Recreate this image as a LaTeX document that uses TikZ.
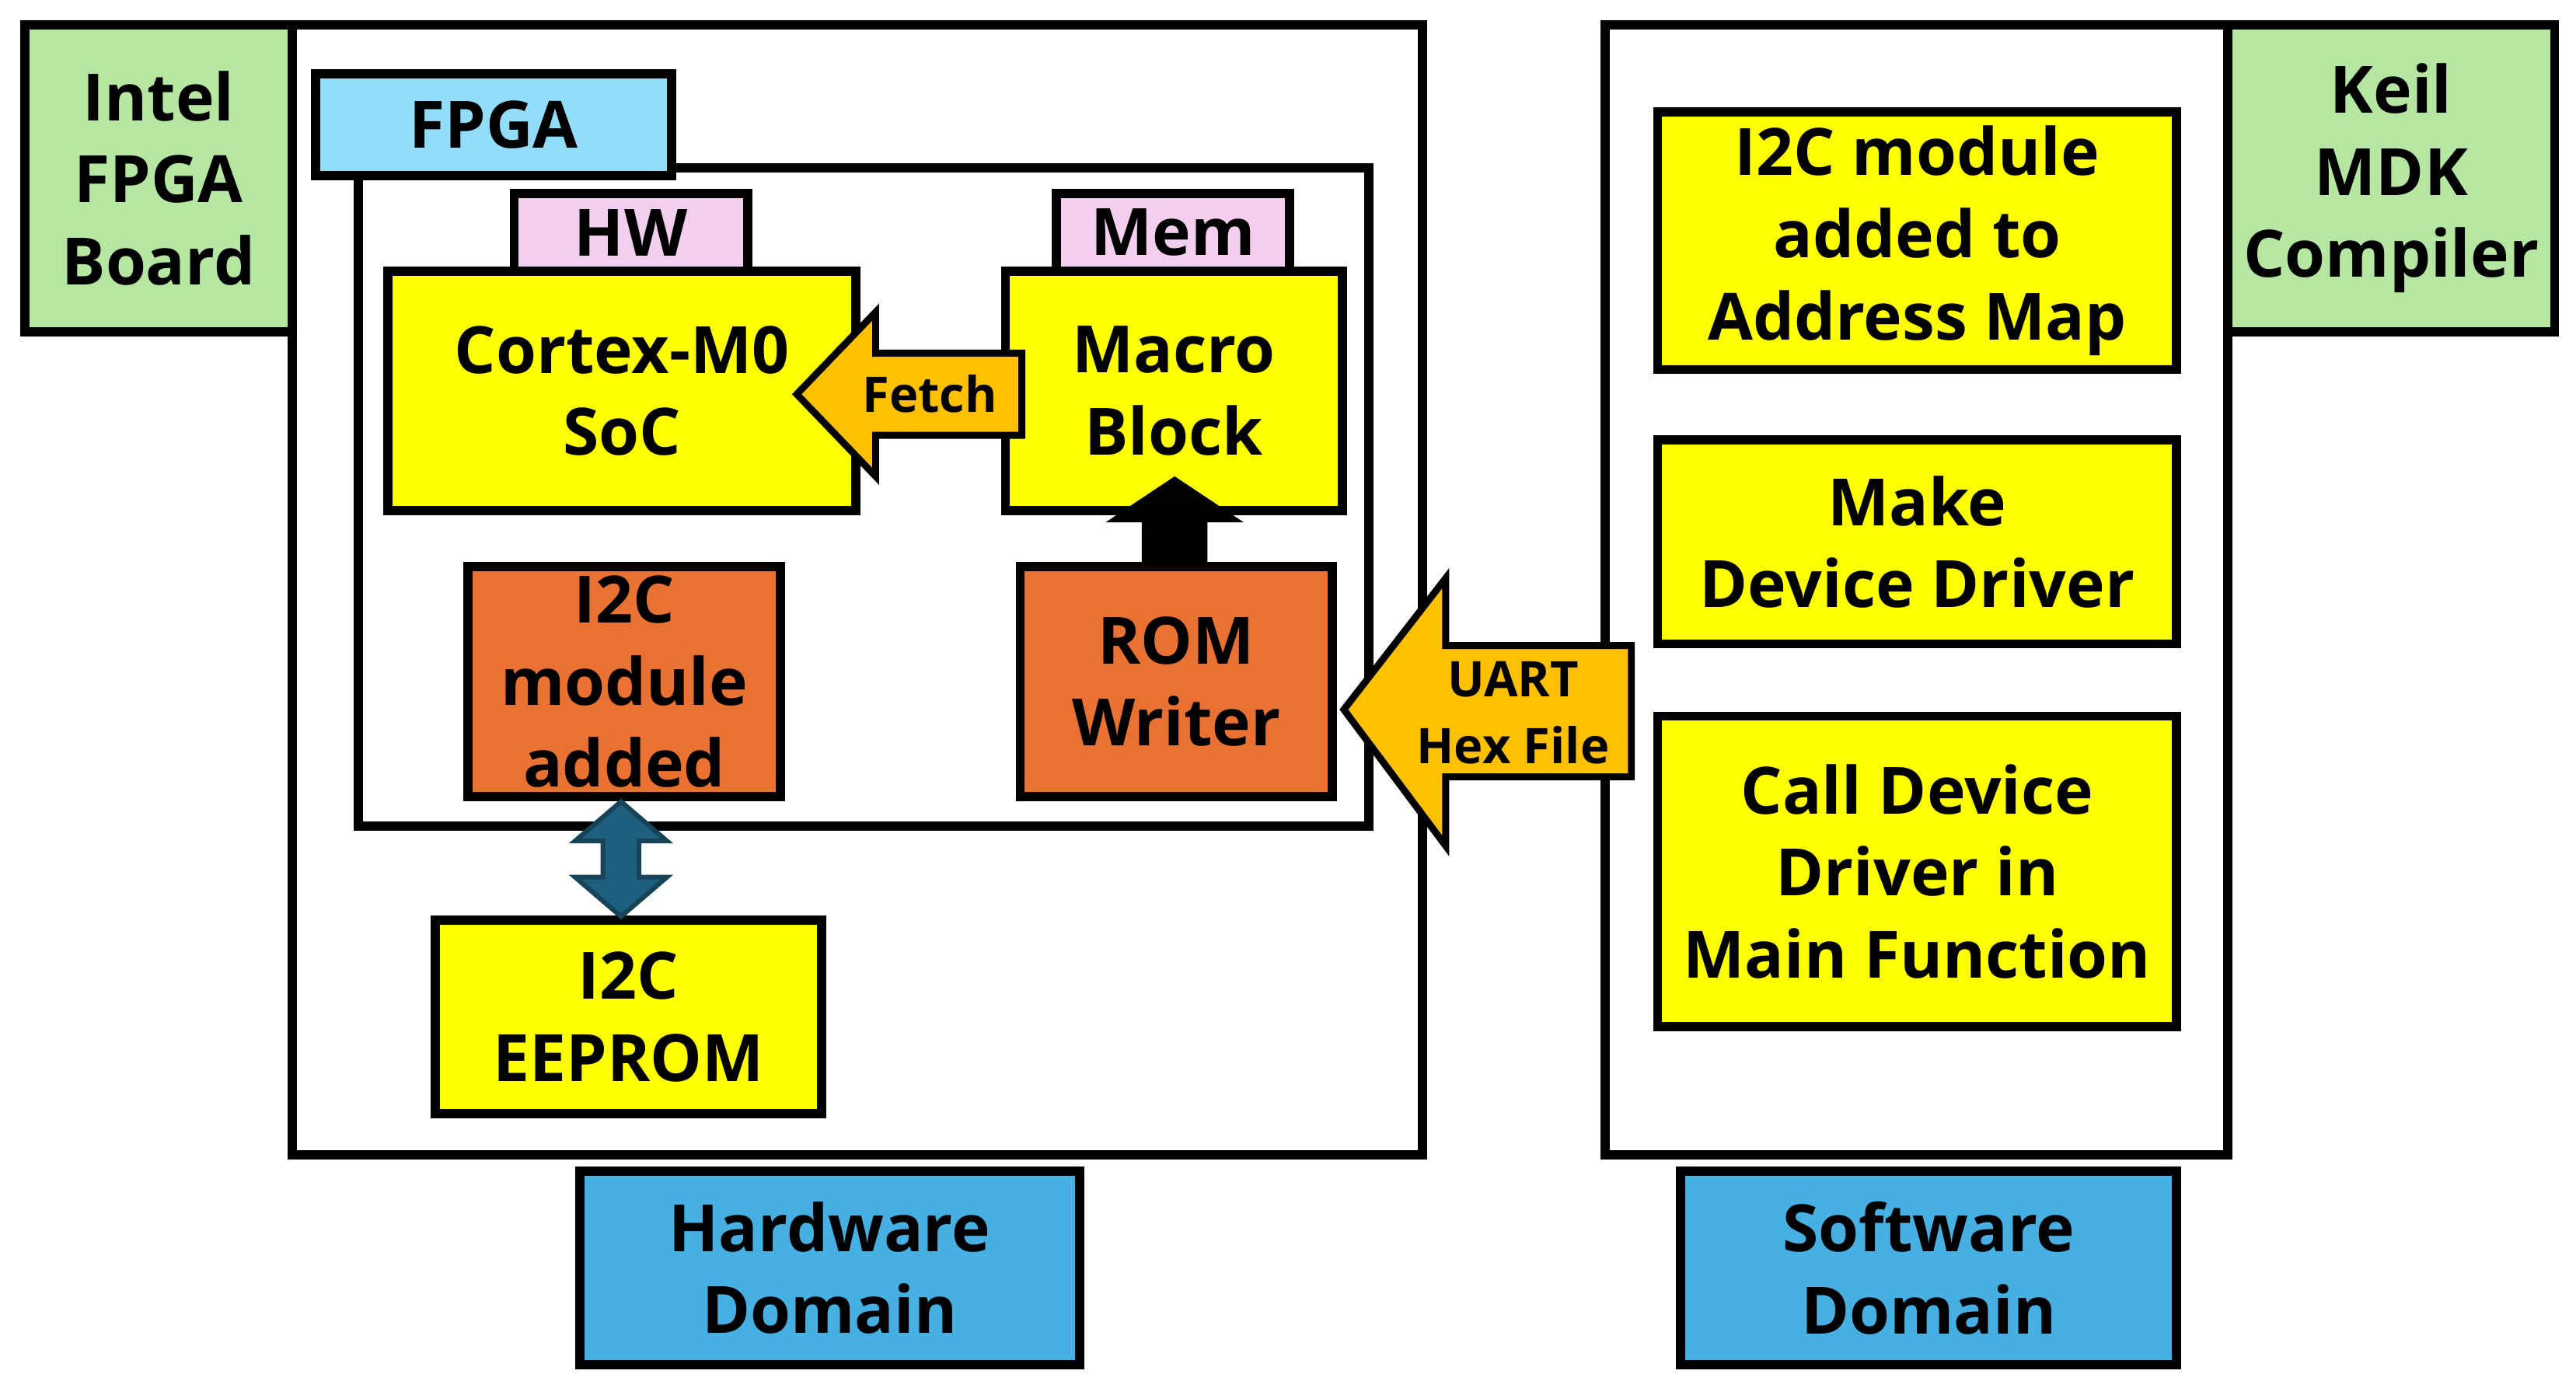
\documentclass[tikz,border=0pt]{standalone}
\usepackage{fontspec}
\setmainfont{Open Sans}
\usetikzlibrary{calc}
\definecolor{boxyellow}{HTML}{FFFF00}
\definecolor{boxorange}{HTML}{E97132}
\definecolor{boxgreen}{HTML}{B5E6A2}
\definecolor{boxblue}{HTML}{45B0E1}
\definecolor{lightblue}{HTML}{92DDF7}
\definecolor{boxpink}{HTML}{F2CEEF}
\definecolor{arroworange}{HTML}{FFC000}
\definecolor{arrowteal}{HTML}{1F5F7E}
\tikzset{
  blk/.style={draw=black,line width=1.6pt,align=center,inner sep=0pt,
    font=\fontsize{11.3}{14.2}\selectfont\bfseries},
  lbl/.style={font=\fontsize{8.5}{11.5}\selectfont\bfseries,align=center},
}
% box from corner to corner (display pixels)
\newcommand{\pbox}[7]{%
  \node[blk,fill=#6,minimum width={(#4-#2)*0.01cm},minimum height={(#5-#3)*0.01cm}]
    (#1) at ({(#2+#4)/2},{(#3+#5)/2}) {#7};}
\begin{document}
\begin{tikzpicture}[x=0.01cm,y=-0.01cm]
  \useasboundingbox (0,0) rectangle (1568,845);
  % Outer domains
  \pbox{hwdom}{178}{15}{866}{703}{white}{}
  \pbox{swdom}{977}{15}{1356}{703}{white}{}
  \pbox{intel}{15}{15}{178}{202}{boxgreen}{Intel\\FPGA\\Board}
  \pbox{keil}{1356}{15}{1555}{202}{boxgreen}{Keil\\MDK\\Compiler}
  % FPGA
  \pbox{fpga}{218}{102}{833}{503}{white}{}
  \pbox{fpgalbl}{192}{45}{409}{107}{lightblue}{FPGA}
  \pbox{hw}{313}{118}{455}{165}{boxpink}{HW}
  \pbox{mem}{643}{118}{785}{165}{boxpink}{Mem}
  \pbox{cortex}{236}{165}{521}{311}{boxyellow}{Cortex-M0\\SoC}
  \pbox{macro}{612}{165}{817}{311}{boxyellow}{Macro\\Block}
  \pbox{i2cmod}{285}{345}{475}{485}{boxorange}{I2C\\module\\added}
  \pbox{rom}{621}{345}{811}{485}{boxorange}{ROM\\Writer}
  \pbox{eeprom}{265}{560}{500}{678}{boxyellow}{I2C\\EEPROM}
  % Software side
  \pbox{addr}{1009}{68}{1325}{225}{boxyellow}{I2C module\\added to\\Address Map}
  \pbox{make}{1009}{268}{1325}{392}{boxyellow}{Make\\Device Driver}
  \pbox{call}{1009}{436}{1325}{625}{boxyellow}{Call Device\\Driver in\\Main Function}
  % Domain labels
  \pbox{hwlbl}{353}{713}{657}{831}{boxblue}{Hardware\\Domain}
  \pbox{swlbl}{1023}{713}{1325}{831}{boxblue}{Software\\Domain}
  % Fetch arrow
  \filldraw[fill=arroworange,draw=black,line width=1.2pt]
    (622,215) -- (533,215) -- (533,190) -- (485,240) -- (533,290) -- (533,265) -- (622,265) -- cycle;
  \node[lbl] (fetch) at (566,240) {Fetch};
  % UART arrow
  \filldraw[fill=arroworange,draw=black,line width=1.2pt]
    (993,393) -- (880,393) -- (880,352) -- (818,432) -- (880,515) -- (880,473) -- (993,473) -- cycle;
  \node[lbl] (uart) at (921,434) {UART\\Hex File};
  % ROM writer to macro block
  \fill[black] (rom.north -| 735,0) -- (735,318) -- (757,318) -- (715,290) -- (673,318) -- (695,318) -- (rom.north -| 695,0) -- cycle;
  % I2C module <-> EEPROM
  \filldraw[fill=arrowteal,draw=arrowteal!70!black,line width=0.8pt]
    (378,488) -- (406,512) -- (389,512) -- (389,534) -- (406,534) -- (378,558)
    -- (350,534) -- (367,534) -- (367,512) -- (350,512) -- cycle;
\end{tikzpicture}
\end{document}
